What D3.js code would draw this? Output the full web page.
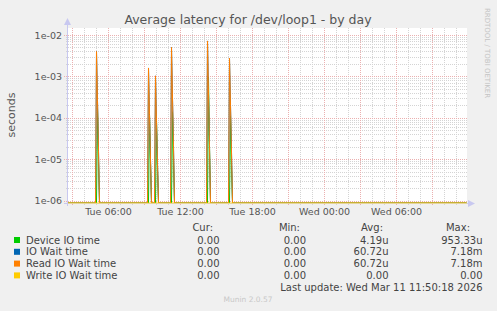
<!DOCTYPE html>
<html>
<head>
<meta charset="utf-8">
<script src="https://cdn.jsdelivr.net/npm/d3@7"></script>
<style>
  html, body { margin: 0; padding: 0; background: #f0f0f0; }
  svg { display: block; }
  text { font-family: "DejaVu Sans", sans-serif; }
  .mono { font-family: "DejaVu Sans Mono", monospace; }
</style>
</head>
<body>
<svg id="chart" width="497" height="311"></svg>
<script>
// Munin disk latency, day view: sparse spikes, zero elsewhere
const rangeStart = new Date(2026, 2, 10, 2, 35);
const rangeEnd = new Date(2026, 2, 11, 11, 55);
const stepMinutes = 5;

// first sample of each burst (Tue 10 Mar)
const spikeStarts = ['05:00', '09:20', '09:55', '11:15', '14:15', '16:05'];
// three consecutive 5-minute samples per burst
const deviceIOTime = [[0, 1.7e-4, 9e-6], [0, 1.2e-4, 8e-6], [0, 9e-5, 6e-6], [0, 1.4e-4, 9e-6], [0, 9.5333e-4, 2e-5], [0, 1.1e-4, 7e-6]];
const ioWaitTime = [[4.0e-3, 2.6e-4, 1.6e-5], [1.6e-3, 1.2e-4, 1e-5], [1.03e-3, 8e-5, 8e-6], [5.0e-3, 3e-4, 2e-5], [7.18e-3, 4e-4, 2e-5], [2.76e-3, 2e-4, 1.5e-5]];
const readIOWaitTime = [[4.0e-3, 2.6e-4, 1.6e-5], [1.6e-3, 1.2e-4, 1e-5], [1.03e-3, 8e-5, 8e-6], [5.0e-3, 3e-4, 2e-5], [7.18e-3, 4e-4, 2e-5], [2.76e-3, 2e-4, 1.5e-5]];
const writeIOWaitTime = [[0, 0, 0], [0, 0, 0], [0, 0, 0], [0, 0, 0], [0, 0, 0], [0, 0, 0]];

const seriesNames = ['Device IO time', 'IO Wait time', 'Read IO Wait time', 'Write IO Wait time'];
const seriesColors = ['#00cc00', '#0066b3', '#ff8000', '#ffcc00'];
const curValues = ['0.00', '0.00', '0.00', '0.00'];
const minValues = ['0.00', '0.00', '0.00', '0.00'];
const avgValues = ['4.19u', '60.72u', '60.72u', '0.00'];
const maxValues = ['953.33u', '7.18m', '7.18m', '0.00'];
const yTicks = [1e-2, 1e-3, 1e-4, 1e-5, 1e-6];
const minorMultipliers = [2, 3, 4, 5, 6, 7, 8, 9];
const lastUpdate = 'Last update: Wed Mar 11 11:50:18 2026';

const svg = d3.select('#chart');
const W = 497, H = 311;
const plot = { left: 67, right: 467, top: 28, bottom: 203 };

const x = d3.scaleTime().domain([rangeStart, rangeEnd]).range([plot.left, plot.right]);
const y = d3.scaleLog().domain([8.8e-7, 0.01476]).range([plot.bottom, plot.top]);

// build 5-minute series
function buildSeries(bursts) {
  const times = d3.timeMinute.every(stepMinutes).range(rangeStart, rangeEnd);
  const map = new Map();
  spikeStarts.forEach((s, i) => {
    const [hh, mm] = s.split(':').map(Number);
    const t0 = new Date(2026, 2, 10, hh, mm);
    bursts[i].forEach((v, k) => map.set(+d3.timeMinute.offset(t0, k * stepMinutes), v));
  });
  return times.map((t) => ({ t, v: map.get(+t) || 0 }));
}

svg.append('rect').attr('width', W).attr('height', H).attr('fill', '#f0f0f0');
svg.append('rect').attr('x', plot.left).attr('y', plot.top)
  .attr('width', plot.right - plot.left).attr('height', plot.bottom - plot.top).attr('fill', '#ffffff');

// grid
const grid = svg.append('g');
const minorCol = '#d4d4d4', majorCol = '#ebb0b0';
const minorY = [];
[1e-7].concat(yTicks).forEach((d) => minorMultipliers.forEach((m) => minorY.push(m * d)));
minorY.filter((v) => v > y.domain()[0] && v < y.domain()[1]).forEach((v) => {
  const yy = Math.round(y(v)) + 0.5;
  grid.append('line').attr('x1', plot.left - 1).attr('x2', plot.right).attr('y1', yy).attr('y2', yy)
    .attr('stroke', minorCol).attr('stroke-dasharray', '1,1');
});
x.ticks(d3.timeHour.every(1)).forEach((t) => {
  const xx = Math.round(x(t)) + 0.5;
  const major = t.getHours() % 3 === 0;
  grid.append('line').attr('x1', xx).attr('x2', xx).attr('y1', plot.top).attr('y2', plot.bottom + 3)
    .attr('stroke', major ? majorCol : minorCol).attr('stroke-dasharray', '1,1');
});
yTicks.forEach((v) => {
  const yy = Math.round(y(v)) + 0.5;
  grid.append('line').attr('x1', plot.left - 3).attr('x2', plot.right).attr('y1', yy).attr('y2', yy)
    .attr('stroke', majorCol).attr('stroke-dasharray', '1,1');
});

// series lines
const line = d3.line()
  .x((d) => x(d.t) + 0.5)
  .y((d) => (d.v > 0 ? y(d.v) : plot.bottom));
[deviceIOTime, ioWaitTime, readIOWaitTime, writeIOWaitTime].forEach((bursts, i) => {
  svg.append('path').datum(buildSeries(bursts))
    .attr('d', line).attr('fill', 'none')
    .attr('stroke', seriesColors[i]).attr('stroke-width', 1);
});

// axes lines + arrows
const axisCol = '#c8c8f0';
svg.append('line').attr('x1', plot.left + 0.5).attr('x2', plot.left + 0.5).attr('y1', plot.bottom + 3).attr('y2', 22)
  .attr('stroke', axisCol).attr('shape-rendering', 'crispEdges');
svg.append('path').attr('d', `M${plot.left - 3},25 L${plot.left + 0.5},18 L${plot.left + 4},25 Z`).attr('fill', axisCol);
svg.append('line').attr('x1', plot.left - 3).attr('x2', plot.right + 4).attr('y1', plot.bottom + 0.5).attr('y2', plot.bottom + 0.5)
  .attr('stroke', axisCol).attr('shape-rendering', 'crispEdges');
svg.append('path').attr('d', `M${plot.right + 1},${plot.bottom - 3} L${plot.right + 8},${plot.bottom + 0.5} L${plot.right + 1},${plot.bottom + 4} Z`).attr('fill', axisCol);
// zero values sit on the bottom edge
svg.append('line').attr('x1', plot.left + 1).attr('x2', plot.right).attr('y1', plot.bottom + 0.5).attr('y2', plot.bottom + 0.5)
  .attr('stroke', '#e6d49a').attr('shape-rendering', 'crispEdges');

// y axis labels
const yAxis = d3.axisLeft(y).tickValues(yTicks).tickSize(0).tickPadding(0)
  .tickFormat((v) => v.toExponential(0).replace(/e-(\d)$/, 'e-0$1'));
const gy = svg.append('g').attr('transform', `translate(${plot.left - 5},0)`).call(yAxis);
gy.select('.domain').remove();
gy.selectAll('text').attr('font-size', 9.5).attr('fill', '#555').attr('font-family', 'DejaVu Sans');

// x axis labels
const xAxis = d3.axisBottom(x).ticks(d3.timeHour.every(6)).tickSize(0).tickPadding(0)
  .tickFormat(d3.timeFormat('%a %H:%M'));
const gx = svg.append('g').attr('transform', `translate(0,${plot.bottom + 5})`).call(xAxis);
gx.select('.domain').remove();
gx.selectAll('text').attr('font-size', 9.5).attr('fill', '#555').attr('font-family', 'DejaVu Sans');

// title and side texts
svg.append('text').attr('x', 248).attr('y', 24).attr('text-anchor', 'middle')
  .attr('font-size', 12.5).attr('fill', '#555').text('Average latency for /dev/loop1 - by day');
svg.append('text').attr('transform', 'translate(15,115) rotate(-90)').attr('text-anchor', 'middle')
  .attr('font-size', 11).attr('fill', '#555').text('seconds');
svg.append('text').attr('transform', 'translate(485,53) rotate(90)').attr('text-anchor', 'middle')
  .attr('font-size', 7).attr('fill', '#c4c4c4').text('RRDTOOL / TOBI OETIKER');
svg.append('text').attr('x', 248).attr('y', 302).attr('text-anchor', 'middle')
  .attr('font-size', 7.5).attr('fill', '#c8c8c8').text('Munin 2.0.57');

// legend
const lg = svg.append('g').attr('class', 'mono').attr('font-size', 10).attr('fill', '#444');
const cols = [
  { head: 'Cur:', hx: 213, vx: 219.5, vals: curValues },
  { head: 'Min:', hx: 300, vx: 306, vals: minValues },
  { head: 'Avg:', hx: 383, vx: 388.5, vals: avgValues },
  { head: 'Max:', hx: 470, vx: 482.5, vals: maxValues }
];
cols.forEach((c) => {
  lg.append('text').attr('x', c.hx).attr('y', 231).attr('text-anchor', 'end').text(c.head);
});
seriesNames.forEach((name, i) => {
  const by = 243.5 + i * 11.8;
  lg.append('rect').attr('x', 14).attr('y', by - 6.5).attr('width', 6).attr('height', 6).attr('fill', seriesColors[i]);
  lg.append('text').attr('x', 26).attr('y', by).text(name);
  cols.forEach((c) => {
    lg.append('text').attr('x', c.vx).attr('y', by).attr('text-anchor', 'end').text(c.vals[i]);
  });
});
lg.append('text').attr('x', 482.5).attr('y', 290.5).attr('text-anchor', 'end').text(lastUpdate);
</script>
</body>
</html>
